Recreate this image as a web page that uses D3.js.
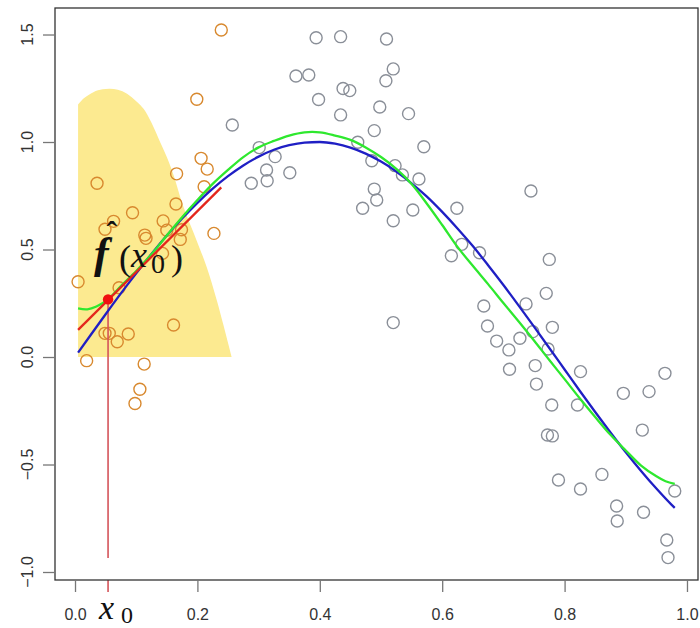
<!DOCTYPE html>
<html>
<head>
<meta charset="utf-8">
<script src="https://cdn.jsdelivr.net/npm/d3@7"></script>
<style>
  html, body { margin: 0; padding: 0; background: #fff; }
  svg { display: block; }
</style>
</head>
<body>
<svg id="chart" width="700" height="628"></svg>
<script>
// ---------- data ----------
const xTicks = [0.0, 0.2, 0.4, 0.6, 0.8, 1.0];
const yTicks = [-1.0, -0.5, 0.0, 0.5, 1.0, 1.5];

// observations inside the kernel window (orange)
const orangeX = [0.005, 0.019, 0.036, 0.049, 0.063, 0.049, 0.056, 0.069, 0.072, 0.087,
                 0.094, 0.098, 0.106, 0.113, 0.114, 0.116, 0.143, 0.144, 0.150, 0.161,
                 0.165, 0.166, 0.172, 0.174, 0.199, 0.206, 0.211, 0.216, 0.227, 0.239];
const orangeY = [0.350, -0.017, 0.808, 0.594, 0.631, 0.110, 0.110, 0.071, 0.322, 0.107,
                 0.671, -0.216, -0.150, -0.033, 0.567, 0.552, 0.482, 0.633, 0.590, 0.149,
                 0.712, 0.852, 0.547, 0.592, 1.199, 0.924, 0.792, 0.874, 0.575, 1.521];

// remaining observations (gray)
const grayX = [0.257, 0.288, 0.301, 0.313, 0.314, 0.327, 0.351, 0.361, 0.382, 0.394,
               0.398, 0.434, 0.434, 0.438, 0.449, 0.462, 0.470, 0.485, 0.489, 0.489,
               0.493, 0.498, 0.508, 0.509, 0.520, 0.520, 0.520, 0.523, 0.535, 0.545,
               0.552, 0.562, 0.570, 0.615, 0.624, 0.632, 0.661, 0.668, 0.674, 0.689,
               0.709, 0.710, 0.727, 0.737, 0.745, 0.748, 0.752, 0.754, 0.770, 0.772,
               0.773, 0.775, 0.779, 0.780, 0.780, 0.790, 0.821, 0.826, 0.826, 0.861,
               0.885, 0.886, 0.896, 0.927, 0.929, 0.938, 0.964, 0.967, 0.969, 0.980];
const grayY = [1.079, 0.808, 0.974, 0.870, 0.820, 0.932, 0.857, 1.307, 1.312, 1.485,
               1.198, 1.490, 1.126, 1.249, 1.239, 0.999, 0.692, 0.913, 1.053, 0.781,
               0.730, 1.163, 1.285, 1.479, 1.340, 0.634, 0.160, 0.890, 0.847, 1.132,
               0.684, 0.828, 0.978, 0.471, 0.692, 0.524, 0.485, 0.237, 0.144, 0.074,
               0.033, -0.057, 0.087, 0.247, 0.772, 0.118, -0.040, -0.126, 0.296, -0.363,
               0.037, 0.454, -0.223, 0.138, -0.367, -0.572, -0.223, -0.068, -0.614, -0.546,
               -0.693, -0.763, -0.169, -0.340, -0.722, -0.161, -0.076, -0.851, -0.933, -0.623];

// true function (blue)
const trueX = [0.005, 0.025, 0.05, 0.075, 0.10, 0.125, 0.15, 0.175, 0.20, 0.225,
               0.25, 0.275, 0.30, 0.325, 0.35, 0.375, 0.40, 0.425, 0.45, 0.475,
               0.50, 0.525, 0.55, 0.575, 0.60, 0.625, 0.65, 0.675, 0.70, 0.725,
               0.75, 0.775, 0.80, 0.825, 0.85, 0.875, 0.90, 0.925, 0.95, 0.975, 0.98];
const trueY = [0.020, 0.100, 0.199, 0.296, 0.389, 0.479, 0.565, 0.644, 0.717, 0.783,
               0.841, 0.891, 0.932, 0.964, 0.985, 0.997, 1.000, 0.992, 0.974, 0.946,
               0.909, 0.863, 0.808, 0.746, 0.675, 0.598, 0.516, 0.427, 0.335, 0.239,
               0.141, 0.042, -0.058, -0.158, -0.256, -0.351, -0.443, -0.530, -0.612, -0.688, -0.702];

// local linear regression fit (green)
const fitX = [0.005, 0.02, 0.035, 0.054, 0.075, 0.10, 0.125, 0.15, 0.175, 0.20,
              0.225, 0.25, 0.275, 0.30, 0.325, 0.35, 0.375, 0.40, 0.425, 0.45,
              0.475, 0.50, 0.525, 0.55, 0.575, 0.60, 0.625, 0.65, 0.675, 0.70,
              0.725, 0.75, 0.775, 0.80, 0.825, 0.85, 0.875, 0.90, 0.925, 0.95, 0.965, 0.98];
const fitY = [0.226, 0.222, 0.235, 0.268, 0.330, 0.400, 0.478, 0.565, 0.650, 0.730,
              0.805, 0.870, 0.930, 0.975, 1.005, 1.030, 1.045, 1.045, 1.030, 1.010,
              0.975, 0.930, 0.875, 0.805, 0.713, 0.614, 0.512, 0.424, 0.339, 0.251,
              0.165, 0.077, -0.014, -0.103, -0.193, -0.279, -0.362, -0.435, -0.505, -0.555, -0.578, -0.590];

// kernel weights (yellow)
const kernelX = [0.005, 0.015, 0.03, 0.045, 0.057, 0.07, 0.085, 0.10, 0.112, 0.125,
                 0.139, 0.15, 0.161, 0.177, 0.199, 0.215, 0.232, 0.256];
const kernelY = [1.175, 1.205, 1.232, 1.245, 1.248, 1.243, 1.225, 1.19, 1.155, 1.09,
                 1.00, 0.93, 0.847, 0.70, 0.54, 0.42, 0.26, 0.0];

// local weighted line at x0 (red)
const localLineX = [0.005, 0.239];
const localLineY = [0.126, 0.789];
const x0 = 0.054;
const fx0 = 0.268;
const x0Bottom = -0.935;

// ---------- drawing ----------
const svg = d3.select("#chart");
const x = d3.scaleLinear().domain([-0.0327, 1.018]).range([55, 698]);
const y = d3.scaleLinear().domain([-1.0372, 1.6233]).range([580, 8]);

const SANS = "'Liberation Sans', Arial, Helvetica, sans-serif";
const SERIF = "'Liberation Serif', 'DejaVu Serif', serif";

// kernel area
const kern = kernelX.map((d, i) => [d, kernelY[i]]);
svg.append("path")
  .datum(kern)
  .attr("d", d3.area().x(d => x(d[0])).y0(y(0)).y1(d => y(d[1])).curve(d3.curveCatmullRom))
  .attr("fill", "#fcea90");

// points
const pts = svg.append("g");
pts.selectAll("circle.gray")
  .data(grayX.map((d, i) => [d, grayY[i]]))
  .join("circle").attr("class", "gray")
  .attr("cx", d => x(d[0])).attr("cy", d => y(d[1])).attr("r", 6)
  .attr("fill", "none").attr("stroke", "#8a8f98").attr("stroke-width", 1.4);
pts.selectAll("circle.orange")
  .data(orangeX.map((d, i) => [d, orangeY[i]]))
  .join("circle").attr("class", "orange")
  .attr("cx", d => x(d[0])).attr("cy", d => y(d[1])).attr("r", 6)
  .attr("fill", "none").attr("stroke", "#d8892f").attr("stroke-width", 1.4);

// red vertical line at x0 (and its tick)
svg.append("line")
  .attr("x1", x(x0)).attr("x2", x(x0))
  .attr("y1", y(x0Bottom)).attr("y2", y(fx0))
  .attr("stroke", "#d4545a").attr("stroke-width", 1.6);
svg.append("line")
  .attr("x1", x(x0)).attr("x2", x(x0))
  .attr("y1", 580).attr("y2", 592)
  .attr("stroke", "#d4545a").attr("stroke-width", 1.6);

// blue true function
svg.append("path")
  .attr("d", d3.line().x(d => x(d[0])).y(d => y(d[1])).curve(d3.curveMonotoneX)(trueX.map((d, i) => [d, trueY[i]])))
  .attr("fill", "none").attr("stroke", "#1f1fc4").attr("stroke-width", 2.3);

// green fit
svg.append("path")
  .attr("d", d3.line().x(d => x(d[0])).y(d => y(d[1])).curve(d3.curveCatmullRom)(fitX.map((d, i) => [d, fitY[i]])))
  .attr("fill", "none").attr("stroke", "#2ee82e").attr("stroke-width", 2.3);

// red local line
svg.append("path")
  .attr("d", d3.line().x(d => x(d[0])).y(d => y(d[1]))(localLineX.map((d, i) => [d, localLineY[i]])))
  .attr("fill", "none").attr("stroke", "#e4261c").attr("stroke-width", 2.3);

// red point
svg.append("circle")
  .attr("cx", x(x0)).attr("cy", y(fx0)).attr("r", 5.2)
  .attr("fill", "#f01010");

// box
svg.append("rect")
  .attr("x", 55).attr("y", 8).attr("width", 643).attr("height", 572)
  .attr("fill", "none").attr("stroke", "#333").attr("stroke-width", 1.3);

// x axis
const gx = svg.append("g").attr("transform", "translate(0,580)")
  .call(d3.axisBottom(x).tickValues(xTicks).tickSize(12).tickPadding(17).tickFormat(d3.format(".1f")));
gx.select(".domain").remove();
gx.selectAll(".tick line").attr("stroke", "#777").attr("stroke-width", 1.3);
gx.selectAll(".tick text").attr("fill", "#333").style("font-family", SANS).style("font-size", "16px");

// y axis
const gy = svg.append("g").attr("transform", "translate(55,0)")
  .call(d3.axisLeft(y).tickValues(yTicks).tickSize(12).tickFormat(""));
gy.select(".domain").remove();
gy.selectAll(".tick line").attr("stroke", "#777").attr("stroke-width", 1.3);
svg.append("g").selectAll("text")
  .data(yTicks).join("text")
  .attr("transform", d => `translate(33,${y(d)}) rotate(-90)`)
  .attr("text-anchor", "middle")
  .attr("fill", "#333")
  .style("font-family", SANS).style("font-size", "16px")
  .text(d => d3.format(".1f")(d));

// x0 label under axis (one text element)
const xl = svg.append("text").style("font-family", SERIF).attr("fill", "#111");
xl.append("tspan").attr("x", 99).attr("y", 619)
  .style("font-style", "italic").style("font-size", "34px").text("x");
xl.append("tspan").attr("x", 121).attr("y", 623)
  .style("font-size", "24px").text("0");

// f-hat(x0) label (one text element)
const fl = svg.append("text").style("font-family", SERIF).attr("fill", "#111");
fl.append("tspan").attr("x", 94).attr("y", 268)
  .style("font-style", "italic").style("font-weight", "bold").style("font-size", "44px").text("f");
fl.append("tspan").attr("x", 106.5).attr("y", 243)
  .style("font-weight", "bold").style("font-size", "32px").text("\u02C6");
fl.append("tspan").attr("x", 119).attr("y", 270)
  .style("font-size", "36px").text("(");
fl.append("tspan").attr("x", 131).attr("y", 267)
  .style("font-style", "italic").style("font-size", "36px").text("x");
fl.append("tspan").attr("x", 151).attr("y", 273)
  .style("font-size", "28px").text("0");
fl.append("tspan").attr("x", 171).attr("y", 270)
  .style("font-size", "36px").text(")");
</script>
</body>
</html>
